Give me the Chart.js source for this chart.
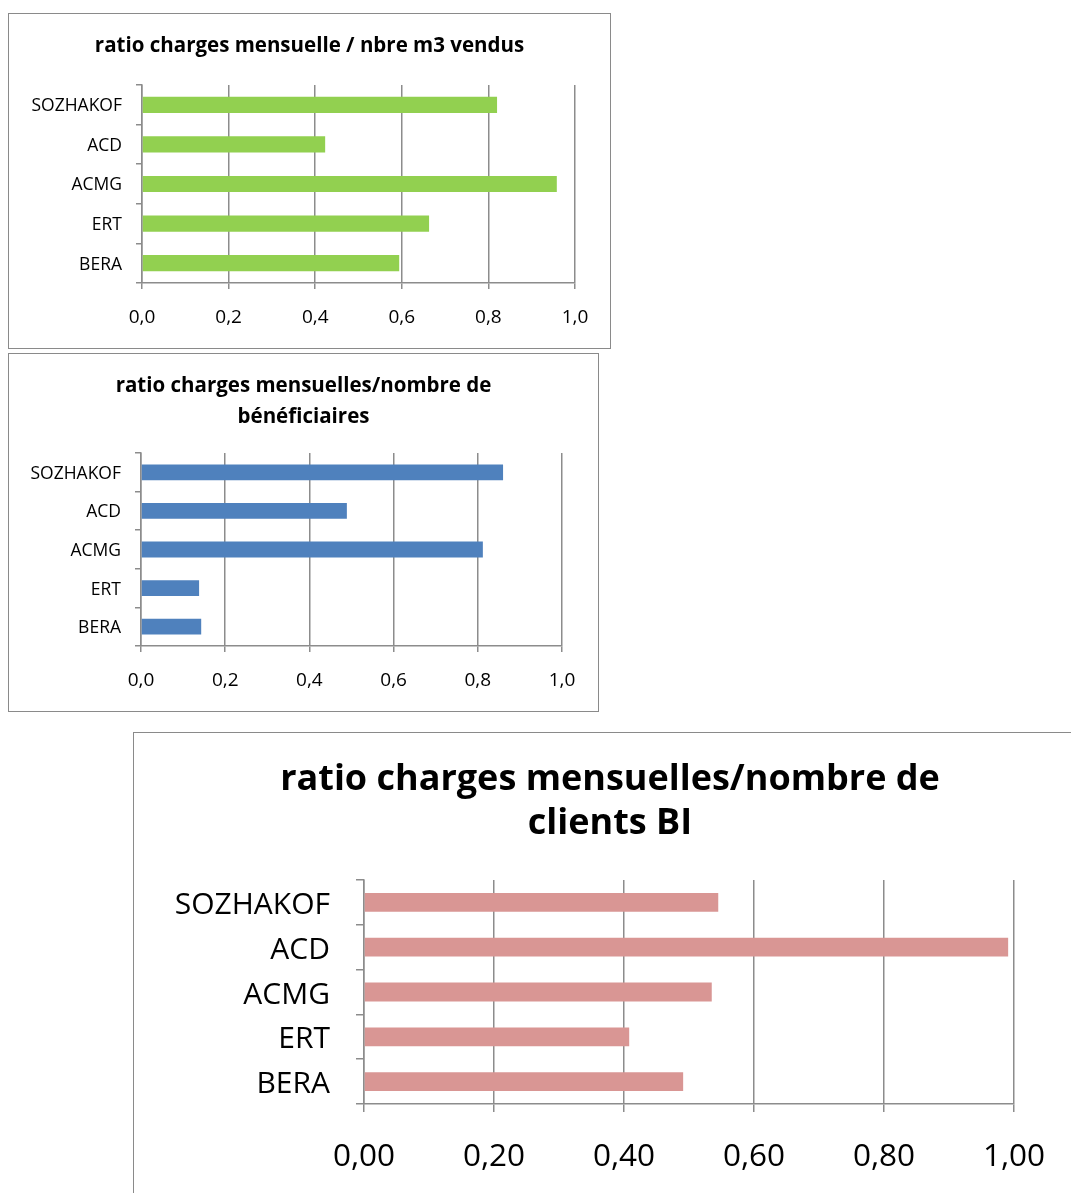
<!DOCTYPE html>
<html>
<head>
<meta charset="utf-8">
<script src="https://cdn.jsdelivr.net/npm/chart.js@4.4.1/dist/chart.umd.min.js"></script>
<style>
  html, body { margin: 0; padding: 0; background: #fff; overflow: hidden; }
  body { width: 1071px; height: 1193px; position: relative; }
  .box { position: absolute; border: 1px solid #8a8a8a; background: #fff; }
  canvas { display: block; }
</style>
</head>
<body>
<div class="box" style="left:8px; top:13px;"><canvas id="chartM3" width="601" height="334"></canvas></div>
<div class="box" style="left:8px; top:353px;"><canvas id="chartBenef" width="589" height="357"></canvas></div>
<div class="box" style="left:133px; top:732px;"><canvas id="chartClients" width="952" height="480"></canvas></div>
<script>
const categories = ['SOZHAKOF', 'ACD', 'ACMG', 'ERT', 'BERA'];
const m3Values = [0.82, 0.423, 0.958, 0.663, 0.594];
const beneficiairesValues = [0.86, 0.489, 0.812, 0.138, 0.143];
const clientsValues = [0.545, 0.991, 0.535, 0.408, 0.491];
const xTicks = [0, 0.2, 0.4, 0.6, 0.8, 1.0];

const gridColor = '#8c8c8c';
const fontFamily = "'Open Sans', sans-serif";

function makeChart(id, values, color, title, cfg) {
  const ctx = document.getElementById(id).getContext('2d');
  return new Chart(ctx, {
    type: 'bar',
    data: {
      labels: categories,
      datasets: [{
        data: values,
        backgroundColor: color,
        borderWidth: 0,
        categoryPercentage: 1,
        barPercentage: cfg.barPct
      }]
    },
    options: {
      indexAxis: 'y',
      responsive: false,
      animation: false,
      devicePixelRatio: 1,
      layout: { padding: 0 },
      plugins: {
        legend: { display: false },
        tooltip: { enabled: false },
        title: {
          display: true,
          text: title,
          color: '#000',
          font: { family: fontFamily, size: cfg.titleSize, weight: 'bold', lineHeight: cfg.titleLine },
          padding: { top: cfg.titleTop, bottom: cfg.titleBottom }
        }
      },
      scales: {
        x: {
          min: 0,
          max: 1,
          afterBuildTicks: (scale) => { scale.ticks = xTicks.map(v => ({ value: v })); },
          afterFit: (scale) => {
            scale.height = cfg.xHeight;
            scale.paddingLeft = 0; scale.paddingRight = 0;
          },
          ticks: {
            color: '#000',
            padding: cfg.xPad,
            font: { family: fontFamily, size: cfg.xFont },
            callback: (v) => Number(v).toFixed(cfg.decimals).replace('.', ',')
          },
          grid: { color: gridColor, lineWidth: 1.5, tickLength: cfg.tick },
          border: { color: gridColor, width: 1.5 }
        },
        y: {
          afterFit: (scale) => {
            scale.width = cfg.yWidth;
            scale.paddingTop = 0; scale.paddingBottom = 0;
          },
          ticks: {
            color: '#000',
            padding: cfg.yPad,
            labelOffset: cfg.labelShift,
            font: { family: fontFamily, size: cfg.yFont }
          },
          grid: { offset: true, drawOnChartArea: false, color: gridColor, lineWidth: 1.5, tickLength: cfg.tick },
          border: { color: gridColor, width: 1.5 }
        },
        // empty right-hand margin so the title stays centred on the whole box
        yRight: {
          type: 'category',
          position: 'right',
          ticks: { display: false },
          grid: { display: false },
          border: { display: false },
          afterFit: (scale) => {
            scale.width = cfg.padRight;
            scale.paddingTop = 0; scale.paddingBottom = 0;
          }
        }
      }
    }
  });
}

makeChart('chartM3', m3Values, '#92D050', 'ratio charges mensuelle / nbre m3 vendus', {
  barPct: 0.41, padRight: 35, titleSize: 20.5, titleLine: 1.2, titleTop: 20, titleBottom: 26.4,
  xHeight: 65, xPad: 17, xFont: 19, yWidth: 133, yPad: 14, yFont: 17.5, tick: 6, decimals: 1, labelShift: 1.5
});

makeChart('chartBenef', beneficiairesValues, '#4F81BD', ['ratio charges mensuelles/nombre de', 'bénéficiaires'], {
  barPct: 0.41, padRight: 36, titleSize: 20.5, titleLine: 31 / 20.5, titleTop: 16.5, titleBottom: 20.5,
  xHeight: 65, xPad: 17, xFont: 19, yWidth: 132, yPad: 14, yFont: 17.5, tick: 6, decimals: 1, labelShift: 1.5
});

makeChart('chartClients', clientsValues, '#D99694', ['ratio charges mensuelles/nombre de', 'clients BI'], {
  barPct: 0.42, padRight: 72, titleSize: 36, titleLine: 44 / 36, titleTop: 25, titleBottom: 34,
  xHeight: 109, xPad: 26, xFont: 31.5, yWidth: 230, yPad: 26, yFont: 30, tick: 8, decimals: 2, labelShift: 3
});
</script>
</body>
</html>
